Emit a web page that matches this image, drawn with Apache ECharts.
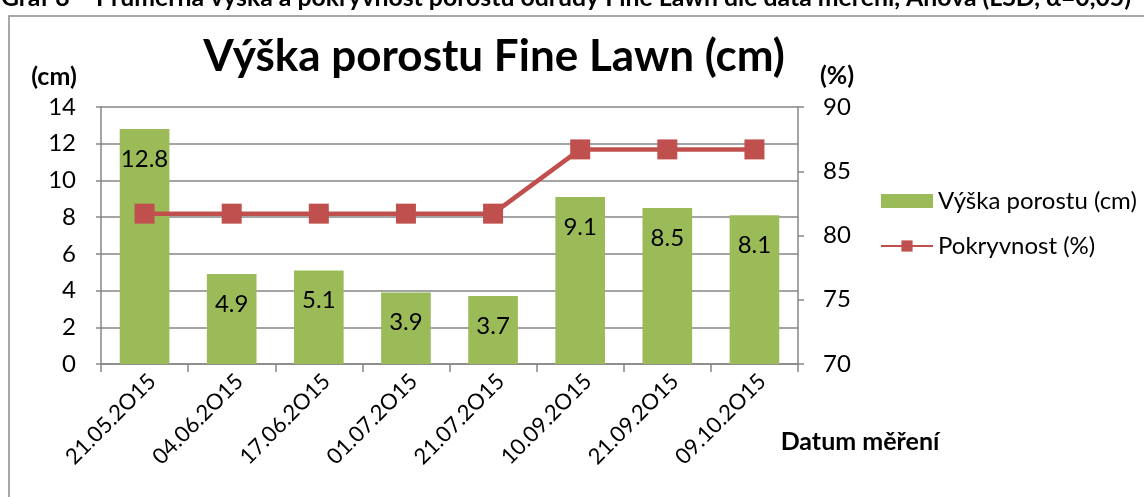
<!DOCTYPE html>
<html><head><meta charset="utf-8">
<script src="https://cdn.jsdelivr.net/npm/echarts@6/dist/echarts.min.js"></script>
<style>html,body{margin:0;padding:0;background:#fff}#c{width:1144px;height:497px}</style>
</head><body><div id="c"></div>
<script>
const categories = ['21.05.2O15','04.06.2O15','17.06.2O15','01.07.2O15','21.07.2O15','10.09.2O15','21.09.2O15','09.10.2O15'];
const heightValues = [12.8, 4.9, 5.1, 3.9, 3.7, 9.1, 8.5, 8.1];
const coverValues = [81.7, 81.7, 81.7, 81.7, 81.7, 86.7, 86.7, 86.7];
const FONT = 'Lato, "Open Sans", sans-serif';
const chart = echarts.init(document.getElementById('c'));
chart.setOption({
  animation: false,
  backgroundColor: '#fff',
  textStyle: {fontFamily: FONT},
  graphic: [
    {type:'rect', shape:{x:9, y:16, width:1300, height:700}, style:{fill:'none', stroke:'#8a8a8a', lineWidth:1.5}, z:0},
    {type:'text', x:566, y:-2, style:{text:'Graf 8 – Průměrná výška a pokryvnost porostu odrůdy Fine Lawn dle data měření, Anova (LSD, α=0,05)', font:'bold 24.8px '+FONT, fill:'#000', align:'center', verticalAlign:'middle'}},
    {type:'text', x:494, y:57, style:{text:'Výška porostu Fine Lawn (cm)', font:'bold 44px '+FONT, fill:'#000', align:'center', verticalAlign:'middle'}},
    {type:'text', x:54, y:77, style:{text:'(cm)', font:'bold 25px '+FONT, fill:'#000', align:'center', verticalAlign:'middle'}},
    {type:'text', x:837, y:76, style:{text:'(%)', font:'bold 25px '+FONT, fill:'#000', align:'center', verticalAlign:'middle'}},
    {type:'text', x:860, y:442, style:{text:'Datum měření', font:'bold 25px '+FONT, fill:'#000', align:'center', verticalAlign:'middle'}}
  ],
  grid: {left:101, right:346, top:107, bottom:133, containLabel:false},
  legend: {
    orient:'vertical', left:875, top:184, itemGap:21, itemWidth:52, itemHeight:14,
    textStyle:{fontSize:24, color:'#000', fontFamily:FONT},
    data:[{name:'Výška porostu (cm)', icon:'rect'}, {name:'Pokryvnost (%)'}]
  },
  xAxis: {
    type:'category', data:categories, boundaryGap:true,
    axisLine:{lineStyle:{color:'#868686', width:1.5}},
    axisTick:{show:true, length:8, lineStyle:{color:'#868686', width:1.5}},
    axisLabel:{rotate:45, fontSize:22, color:'#000', margin:6, verticalAlign:'top', fontFamily:FONT}
  },
  yAxis: [
    {type:'value', min:0, max:14, interval:2,
     axisLine:{show:true, lineStyle:{color:'#868686', width:1.5}},
     axisTick:{show:true, length:5, lineStyle:{color:'#868686', width:1.5}},
     splitLine:{lineStyle:{color:'#868686', width:1.5}},
     axisLabel:{fontSize:24, color:'#000', margin:25, fontFamily:FONT}},
    {type:'value', min:70, max:90, interval:5, position:'right',
     axisLine:{show:true, lineStyle:{color:'#868686', width:1.5}},
     axisTick:{show:true, length:6, lineStyle:{color:'#868686', width:1.5}},
     splitLine:{show:false},
     axisLabel:{fontSize:24, color:'#000', margin:25, fontFamily:FONT}}
  ],
  series: [
    {name:'Výška porostu (cm)', type:'bar', data:heightValues, yAxisIndex:0,
     barCategoryGap:'43%', itemStyle:{color:'#9BBB59'},
     label:{show:true, position:'insideTop', distance:18, fontSize:24, color:'#000', fontFamily:FONT}},
    {name:'Pokryvnost (%)', type:'line', data:coverValues, yAxisIndex:1,
     lineStyle:{color:'#C0504D', width:4.5}, itemStyle:{color:'#C0504D'},
     symbol:'rect', symbolSize:20, z:5}
  ]
});
</script></body></html>
